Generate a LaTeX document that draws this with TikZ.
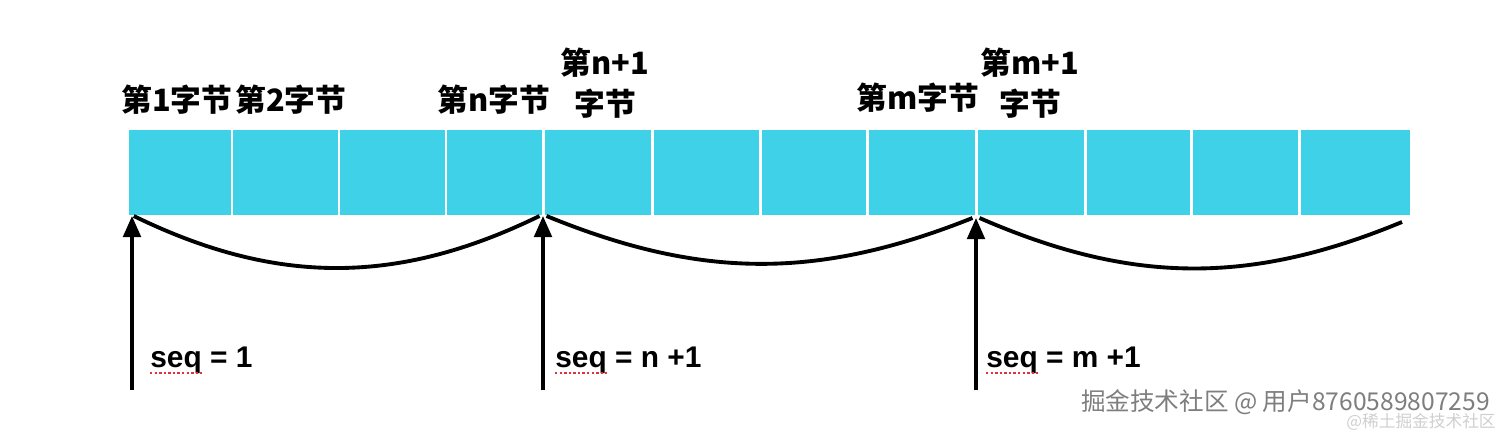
\documentclass[tikz,border=0pt]{standalone}
\usepackage{fontspec}
\usepackage{xcolor}
\usetikzlibrary{arrows.meta,calc}
\setmainfont{Liberation Sans}
\newfontfamily\cjk{Noto Sans CJK SC}
\definecolor{cellcyan}{HTML}{3ED1E7}
\definecolor{markgray}{HTML}{7E7E7E}
\definecolor{faintgray}{HTML}{CFCFCF}
\definecolor{spellred}{HTML}{E0323C}

\begin{document}
\begin{tikzpicture}[x=0.02cm,y=-0.02cm,
 bytelbl/.style={font=\cjk\bfseries\fontsize{17.5}{23.5}\selectfont,align=center,inner sep=0pt},
 seqlbl/.style={font=\bfseries\fontsize{17}{19}\selectfont,anchor=base west,inner sep=0pt},
 ptr/.style={-{Triangle[length=12pt,width=10pt]},line width=2pt},
 span/.style={line width=2.2pt},
 squig/.style={spellred,line width=1.4pt,dash pattern=on 1.4pt off 1.2pt}
]
\useasboundingbox (0,0) rectangle (1504,432);
% byte strip
\fill[cellcyan] (129,130) rectangle (1410,215);
\foreach \x in {232,339,446,543,652,760,867,976,1085,1191,1299}
 \draw[white,line width=1.7pt] (\x,130) -- (\x,215);
% labels above the cells
\node[bytelbl] (b1) at (177,100) {第1字节};
\node[bytelbl] (b2) at (291,100) {第2字节};
\node[bytelbl] (bn) at (494,100) {第n字节};
\node[bytelbl] (bn1) at (605,83) {第n+1\\字节};
\node[bytelbl] (bm) at (918,98) {第m字节};
\node[bytelbl] (bm1) at (1030,83) {第m+1\\字节};
% segment start points
\coordinate (p1) at (132,216);
\coordinate (p2) at (543,216);
\coordinate (p3) at (976,218);
\coordinate (pe) at (1402,222);
\coordinate (f1) at (132,390);
\coordinate (f2) at (543,390);
\coordinate (f3) at (976,390);
% segments
\draw[span] ([xshift=1pt]p1) to[bend right=26] ([xshift=-2pt]p2);
\draw[span] ([xshift=2pt]p2) to[bend right=22] ([xshift=-2pt]p3);
\draw[span] ([xshift=2pt]p3) to[bend right=23] (pe);
% sequence numbers
\draw[ptr] (f1) -- (p1);
\draw[ptr] (f2) -- (p2);
\draw[ptr] (f3) -- (p3);
\node[seqlbl] (s1) at (150,367) {seq = 1};
\node[seqlbl] (s2) at (555,367) {seq = n +1};
\node[seqlbl] (s3) at (986,367) {seq = m +1};
\foreach \s in {s1,s2,s3}
 \draw[squig] ([yshift=-3.5pt]\s.base west) -- ++(52,0);
% watermark
\node[font=\cjk\fontsize{14}{16}\selectfont,text=markgray,anchor=east,inner sep=0pt] (wm) at (1490,402) {掘金技术社区 @ 用户8760589807259};
\node[font=\cjk\fontsize{9.5}{11}\selectfont,text=faintgray,anchor=east,inner sep=0pt] (wm2) at (1496,422) {@稀土掘金技术社区};
\end{tikzpicture}
\end{document}
